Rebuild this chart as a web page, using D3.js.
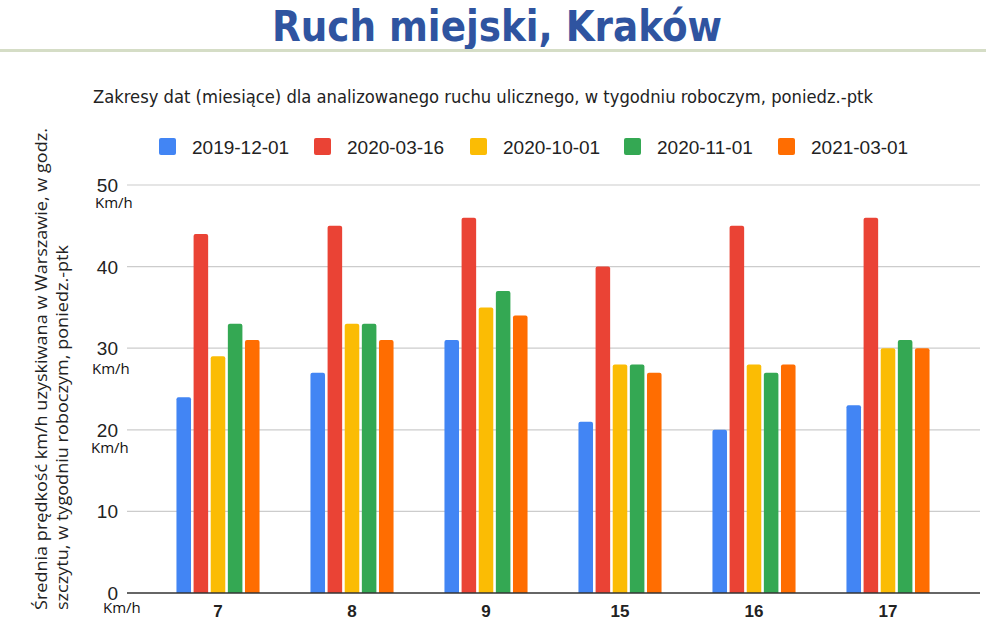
<!DOCTYPE html>
<html>
<head>
<meta charset="utf-8">
<script src="https://cdn.jsdelivr.net/npm/d3@7"></script>
<style>
  html, body { margin: 0; padding: 0; background: #fff; }
  svg { display: block; }
</style>
</head>
<body>
<svg id="chart" width="986" height="626"></svg>
<script>
const categories = ["7", "8", "9", "15", "16", "17"];
const seriesNames = ["2019-12-01", "2020-03-16", "2020-10-01", "2020-11-01", "2021-03-01"];
const s2019_12_01 = [24, 27, 31, 21, 20, 23];
const s2020_03_16 = [44, 45, 46, 40, 45, 46];
const s2020_10_01 = [29, 33, 35, 28, 28, 30];
const s2020_11_01 = [33, 33, 37, 28, 27, 31];
const s2021_03_01 = [31, 31, 34, 27, 28, 30];
const seriesValues = [s2019_12_01, s2020_03_16, s2020_10_01, s2020_11_01, s2021_03_01];
const colors = ["#4285F4", "#EA4335", "#FBBC04", "#34A853", "#FF6D01"];
const yTicks = [0, 10, 20, 30, 40, 50];
const unitTicks = [0, 20, 30, 50];
const titleText = "Ruch miejski, Kraków";
const subtitleText = "Zakresy dat (miesiące) dla analizowanego ruchu ulicznego, w tygodniu roboczym, poniedz.-ptk";
const yTitleLines = ["Średnia prędkość km/h uzyskiwana w Warszawie, w godz.", "szczytu, w tygodniu roboczym, poniedz.-ptk"];

const svg = d3.select("#chart");
const W = 986, H = 626;
const plotLeft = 127, plotRight = 980, plotTop = 185, plotBottom = 593;

// Title
svg.append("text")
  .attr("x", 497).attr("y", 41)
  .attr("text-anchor", "middle")
  .attr("font-family", "'Liberation Sans Narrow', 'DejaVu Sans Condensed', 'Liberation Sans', sans-serif")
  .attr("font-weight", "bold")
  .attr("font-size", 43)
  .attr("fill", "#2F54A0")
  .attr("textLength", 450)
  .attr("lengthAdjust", "spacingAndGlyphs")
  .text(titleText);

svg.append("rect")
  .attr("x", 0).attr("y", 49).attr("width", W).attr("height", 3)
  .attr("fill", "#D5DDC6");

// Subtitle
svg.append("text")
  .attr("x", 93).attr("y", 103)
  .attr("font-family", "'Liberation Sans Narrow', 'DejaVu Sans Condensed', 'Liberation Sans', sans-serif")
  .attr("font-size", 18)
  .attr("fill", "#222")
  .attr("textLength", 780)
  .attr("lengthAdjust", "spacingAndGlyphs")
  .text(subtitleText);

// Scales
const x0 = d3.scaleBand().domain(categories).range([151, 955]).paddingInner(0.38).paddingOuter(0.19);
const x1 = d3.scaleBand().domain(seriesNames).range([0, x0.bandwidth()]).paddingInner(0.15);
const y = d3.scaleLinear().domain([0, 50]).range([plotBottom, plotTop]);

// Grid
svg.append("g").selectAll("line").data(yTicks.filter(d => d !== 0)).join("line")
  .attr("x1", plotLeft).attr("x2", plotRight)
  .attr("y1", d => y(d)).attr("y2", d => y(d))
  .attr("stroke", "#CCCCCC").attr("stroke-width", 1.2);

// Y tick labels
svg.append("g").selectAll("text").data(yTicks).join("text")
  .attr("x", 118).attr("y", d => y(d) + 7)
  .attr("text-anchor", "end")
  .attr("font-family", "'Liberation Sans', Arial, sans-serif")
  .attr("font-size", 19)
  .attr("fill", "#222")
  .text(d => d);

// Km/h unit labels
const unitPos = {50: [95, 208], 30: [92, 374], 20: [91, 453], 0: [103, 613]};
svg.append("g").selectAll("text").data(unitTicks).join("text")
  .attr("x", d => unitPos[d][0]).attr("y", d => unitPos[d][1])
  .attr("font-family", "'Open Sans', 'DejaVu Sans', sans-serif")
  .attr("font-size", 15)
  .attr("fill", "#111")
  .text("Km/h");

// Bars
const groups = svg.append("g").selectAll("g").data(categories).join("g")
  .attr("transform", d => `translate(${x0(d)},0)`);
groups.selectAll("path").data((c, i) => seriesNames.map((s, j) => ({s, j, v: seriesValues[j][i]}))).join("path")
  .attr("fill", d => colors[d.j])
  .attr("d", d => {
    const bx = x1(d.s), bw = x1.bandwidth(), by = y(d.v), r = 2;
    return `M${bx},${plotBottom}V${by + r}Q${bx},${by} ${bx + r},${by}H${bx + bw - r}Q${bx + bw},${by} ${bx + bw},${by + r}V${plotBottom}Z`;
  });

// Baseline
svg.append("line")
  .attr("x1", plotLeft).attr("x2", plotRight)
  .attr("y1", plotBottom).attr("y2", plotBottom)
  .attr("stroke", "#333").attr("stroke-width", 1.5);

// X labels
svg.append("g").selectAll("text").data(categories).join("text")
  .attr("x", d => x0(d) + x0.bandwidth() / 2).attr("y", 617)
  .attr("text-anchor", "middle")
  .attr("font-family", "'Liberation Sans', Arial, sans-serif")
  .attr("font-size", 17)
  .attr("font-weight", "bold")
  .attr("fill", "#222")
  .text(d => d);

// Legend
const legendX = [159, 314, 470, 624, 778];
const legend = svg.append("g").selectAll("g").data(seriesNames).join("g")
  .attr("transform", (d, i) => `translate(${legendX[i]},138)`);
legend.append("rect").attr("width", 17).attr("height", 17).attr("rx", 2)
  .attr("fill", (d, i) => colors[i]);
legend.append("text").attr("x", 33).attr("y", 16)
  .attr("font-family", "'Liberation Sans', Arial, sans-serif")
  .attr("font-size", 19)
  .attr("fill", "#222")
  .text(d => d);

// Y title
const yLens = [482, 365];
const yBase = [47, 68];
svg.append("g").selectAll("text").data(yTitleLines).join("text")
  .attr("transform", (d, i) => `translate(${yBase[i]},610) rotate(-90)`)
  .attr("font-family", "'Open Sans', 'Noto Sans', sans-serif")
  .attr("font-size", 17)
  .attr("fill", "#222")
  .attr("textLength", (d, i) => yLens[i])
  .attr("lengthAdjust", "spacingAndGlyphs")
  .text(d => d);
</script>
</body>
</html>
